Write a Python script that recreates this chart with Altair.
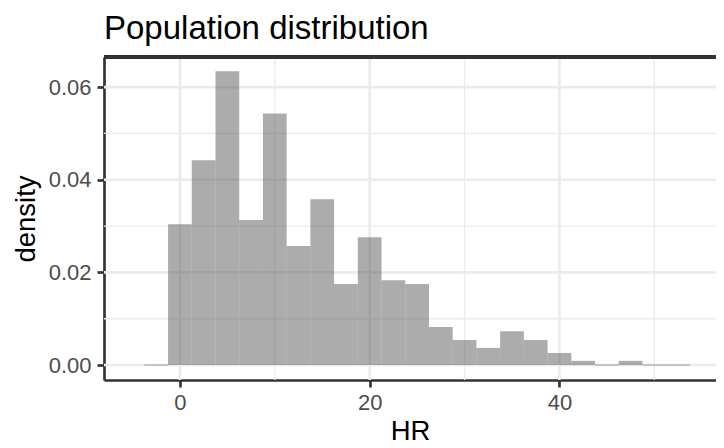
import altair as alt
import pandas as pd

# Histogram bins (centers, binwidth 2.5) and density values
bin_center = [-2.5, 0, 2.5, 5, 7.5, 10, 12.5, 15, 17.5, 20, 22.5, 25,
              27.5, 30, 32.5, 35, 37.5, 40, 42.5, 45, 47.5, 50, 52.5]
density = [0.0, 0.0304, 0.0442, 0.0634, 0.0313, 0.0543, 0.0257, 0.0358,
           0.0175, 0.0276, 0.0183, 0.0175, 0.0082, 0.0054, 0.0037, 0.0073,
           0.0054, 0.0026, 0.0009, 0.0, 0.0009, 0.0, 0.0]
binwidth = 2.5

x_major = [0, 20, 40]
x_minor = [10, 30, 50]
y_major = [0.0, 0.02, 0.04, 0.06]
y_minor = [0.01, 0.03, 0.05]

x_domain = [-8.0, 56.5]
y_domain = [-0.00323, 0.0665]

W, H = 612, 323

df = pd.DataFrame({"center": bin_center, "density": density})
df["left"] = df["center"] - binwidth / 2
df["right"] = df["center"] + binwidth / 2

xs = alt.Scale(domain=x_domain, nice=False, zero=False)
ys = alt.Scale(domain=y_domain, nice=False, zero=False)
x_axis = alt.Axis(values=x_major, title="HR", format="d")
y_axis = alt.Axis(values=y_major, title="density", format=".2f")

grid_col = "#EBEBEB"

gx_major = alt.Chart(pd.DataFrame({"v": x_major})).mark_rule(
    color=grid_col, strokeWidth=2.67).encode(x=alt.X("v:Q", scale=xs, axis=x_axis))
gx_minor = alt.Chart(pd.DataFrame({"v": x_minor})).mark_rule(
    color=grid_col, strokeWidth=1.33).encode(x=alt.X("v:Q", scale=xs, axis=x_axis))
gy_major = alt.Chart(pd.DataFrame({"v": y_major})).mark_rule(
    color=grid_col, strokeWidth=2.67).encode(y=alt.Y("v:Q", scale=ys, axis=y_axis))
gy_minor = alt.Chart(pd.DataFrame({"v": y_minor})).mark_rule(
    color=grid_col, strokeWidth=1.33).encode(y=alt.Y("v:Q", scale=ys, axis=y_axis))

base = alt.Chart(df)

zero_lines = base.transform_filter("datum.density == 0").mark_rule(
    color="#9C9C9C", strokeWidth=1).encode(
    x=alt.X("left:Q", scale=xs, axis=x_axis),
    x2="right:Q",
    y=alt.Y("density:Q", scale=ys, axis=y_axis),
)

bars = base.mark_rect(color="#595959", opacity=0.5).encode(
    x=alt.X("left:Q", scale=xs, axis=x_axis),
    x2="right:Q",
    y=alt.Y("density:Q", scale=ys, axis=y_axis),
    y2=alt.datum(0),
)

top_border = alt.Chart(df).mark_rule(color="#333333", strokeWidth=2.67).encode(
    x=alt.value(0), x2=alt.value(W), y=alt.value(0))

chart = alt.layer(gy_minor, gx_minor, gy_major, gx_major, zero_lines, bars,
                  top_border).properties(
    width=W, height=H,
    title=alt.Title("Population distribution", anchor="start", frame="group",
                    fontSize=33, font="Liberation Sans", fontWeight="normal",
                    color="#000000", offset=10),
    autosize=alt.AutoSizeParams(type="none"),
    padding={"left": 96, "top": 49, "right": 0, "bottom": 68},
).configure_view(stroke=None).configure_axis(
    grid=False,
    domainColor="#333333", domainWidth=2.67,
    tickColor="#333333", tickWidth=2.67, tickSize=7,
    labelFont="Liberation Sans", labelFontSize=22, labelColor="#4D4D4D",
    titleFont="Liberation Sans", titleFontSize=27.5, titleColor="#000000",
    titleFontWeight="normal",
).configure_axisX(labelPadding=5, titlePadding=4).configure_axisY(
    labelPadding=6, titlePadding=8)

chart.save("out.html", embed_options={"renderer": "svg", "actions": False})
